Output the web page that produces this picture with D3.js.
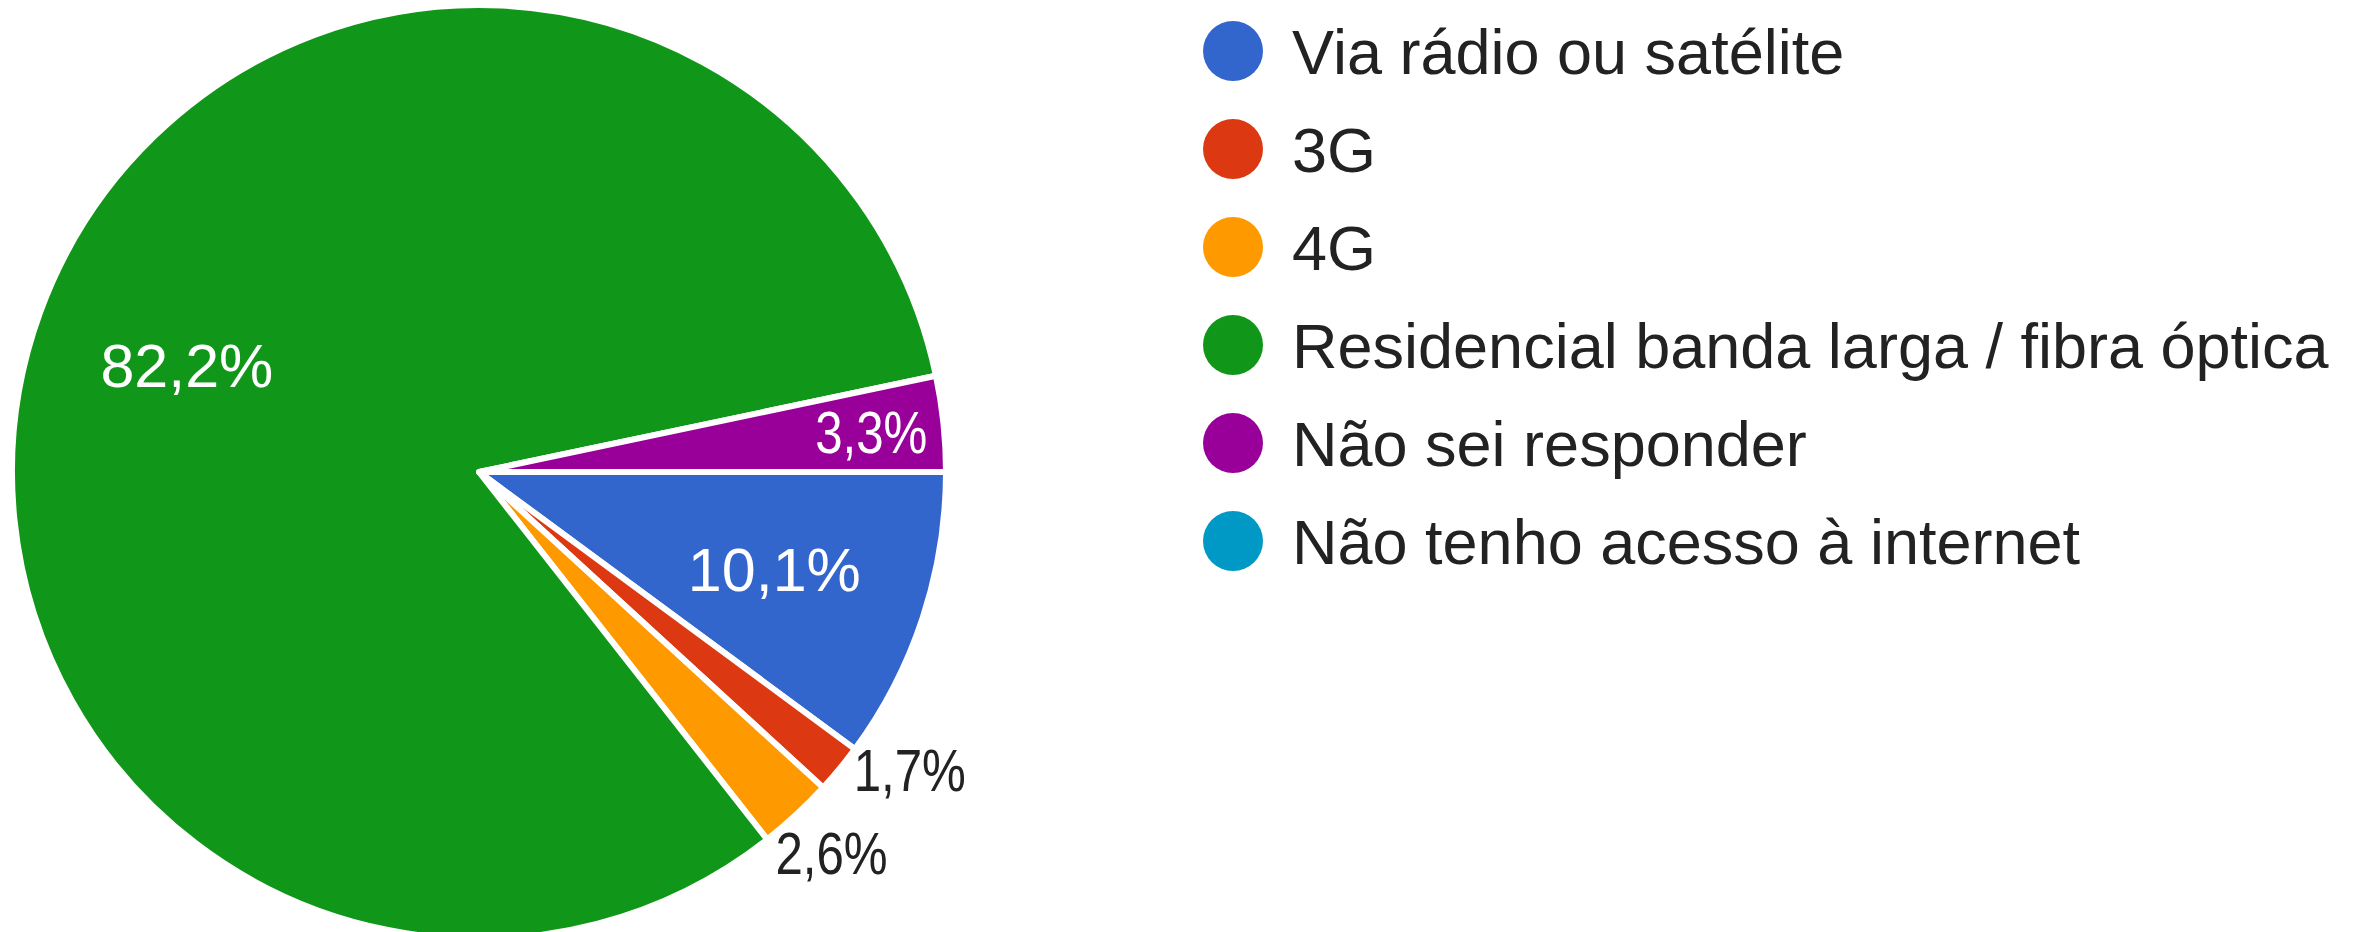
<!DOCTYPE html>
<html>
<head>
<meta charset="utf-8">
<script src="https://cdnjs.cloudflare.com/ajax/libs/d3/7.8.5/d3.min.js"></script>
<style>
  body { margin: 0; background: #fff; }
  #chart { width: 2371px; height: 932px; overflow: hidden; }
</style>
</head>
<body>
<div id="chart"></div>
<script>
// data
var categories = ["Via rádio ou satélite", "3G", "4G", "Residencial banda larga / fibra óptica", "Não sei responder", "Não tenho acesso à internet"];
var shares = [10.1, 1.7, 2.6, 82.2, 3.3, 0];
var colors = ["#3366cc", "#dc3912", "#ff9900", "#109618", "#990099", "#0099c6"];

var width = 2371,
    height = 932,
    cx = 479,
    cy = 472,
    radius = 464,
    labelSize = 60;

var svg = d3.select("#chart").append("svg")
    .attr("width", width)
    .attr("height", height);

var data = categories.map(function(c, i) {
    return {name: c, value: shares[i], color: colors[i]};
});

// pie starts at 3 o'clock and runs clockwise
var pie = d3.pie()
    .sort(null)
    .value(function(d) { return d.value; })
    .startAngle(Math.PI / 2)
    .endAngle(Math.PI / 2 + 2 * Math.PI);

var arcs = pie(data).filter(function(d) { return d.data.value > 0; });

var arc = d3.arc().innerRadius(0).outerRadius(radius + 3);

var fmt = function(v) { return d3.format(".1f")(v).replace(".", ",") + "%"; };

// small labels use a condensed face
var condense = function(sel) {
    sel.each(function() {
        var w = this.getComputedTextLength();
        d3.select(this)
            .attr("textLength", w * 0.82)
            .attr("lengthAdjust", "spacingAndGlyphs");
    });
};

var g = svg.append("g")
    .attr("transform", "translate(" + cx + "," + cy + ")");

g.selectAll(".slice")
    .data(arcs)
    .enter().append("path")
    .attr("class", "slice")
    .attr("d", arc)
    .attr("fill", function(d) { return d.data.color; })
    .attr("stroke", "#fff")
    .attr("stroke-width", 6)
    .attr("stroke-linejoin", "round");

var mid = function(d) { return (d.startAngle + d.endAngle) / 2; };
var capH = 0.716 * labelSize;

// labels inside the slices
var inside = arcs.filter(function(d) { return d.data.value >= 3; });

var inLabels = g.selectAll(".inlabel")
    .data(inside)
    .enter().append("text")
    .attr("class", "inlabel")
    .attr("x", function(d) { return Math.sin(mid(d)) * radius * (d.data.value >= 5 ? 0.67 : 0.85); })
    .attr("y", function(d) { return -Math.cos(mid(d)) * radius * (d.data.value >= 5 ? 0.67 : 0.85) + capH / 2; })
    .attr("text-anchor", "middle")
    .style("font-family", "'Liberation Sans', Arial, sans-serif")
    .style("font-size", function(d) { return (d.data.value >= 5 ? 61 : labelSize) + "px"; })
    .attr("fill", "#fff")
    .text(function(d) { return fmt(d.data.value); });

inLabels.filter(function(d) { return d.data.value < 5; }).call(condense);

// small slices get their label outside, pushed apart so they don't overlap
var outside = arcs.filter(function(d) { return d.data.value < 3; }).map(function(d) {
    return {d: d, y: -Math.cos(mid(d)) * (radius + 54)};
});
outside.sort(function(a, b) { return a.y - b.y; });
var gap = labelSize * 1.37;
for (var i = outside.length - 2; i >= 0; i--) {
    if (outside[i + 1].y - outside[i].y < gap) outside[i].y = outside[i + 1].y - gap;
}
outside.forEach(function(p) {
    var top = p.y - capH / 2;
    p.x = Math.abs(top) < radius ? Math.sqrt(radius * radius - top * top) + 2 : 2;
});

g.selectAll(".outlabel")
    .data(outside)
    .enter().append("text")
    .attr("class", "outlabel")
    .attr("x", function(p) { return p.x; })
    .attr("y", function(p) { return p.y + capH / 2; })
    .attr("text-anchor", "start")
    .style("font-family", "'Liberation Sans', Arial, sans-serif")
    .style("font-size", labelSize + "px")
    .attr("fill", "#222")
    .text(function(p) { return fmt(p.d.data.value); })
    .call(condense);

// legend
var ly = d3.scalePoint()
    .domain(categories)
    .range([51, 541]);

var legend = svg.append("g")
    .attr("class", "legend")
    .selectAll("g")
    .data(data)
    .enter().append("g")
    .attr("transform", function(d) { return "translate(1233," + ly(d.name) + ")"; });

legend.append("circle")
    .attr("r", 30)
    .attr("fill", function(d) { return d.color; });

legend.append("text")
    .attr("x", 59)
    .attr("y", 0.716 * 63 / 2)
    .style("font-family", "'Liberation Sans', Arial, sans-serif")
    .style("font-size", "63px")
    .attr("fill", "#222")
    .text(function(d) { return d.name; });
</script>
</body>
</html>
